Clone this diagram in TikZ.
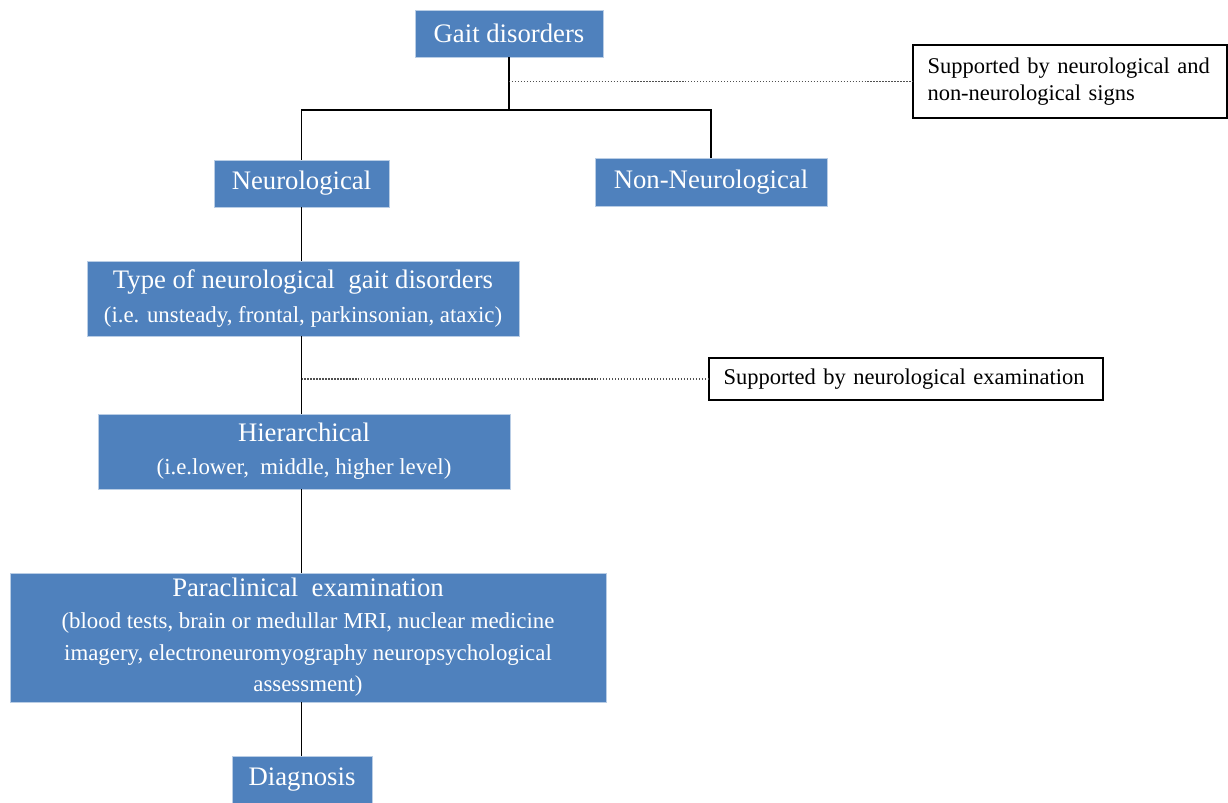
\documentclass[tikz,border=0pt]{standalone}
\usepackage{fontspec}
\setmainfont{Liberation Serif}
\definecolor{StepBlue}{RGB}{79,129,189}
\definecolor{StepEdge}{RGB}{185,205,229}
\definecolor{DotGray}{RGB}{80,80,80}
\usepackage{tikz}
\usetikzlibrary{positioning, calc}
\newcommand{\subsize}{\fontsize{13}{16}\selectfont}
\tikzset{
    base/.style={
        align=center,
        inner sep=3pt,
        text=white,
        font=\fontsize{15.2}{18}\selectfont
    },
    stepbox/.style={base, fill=StepBlue, draw=StepEdge, line width=0.5pt},
    notebox/.style={base, fill=white, draw=black, line width=0.7pt, text=black,
        align=left, inner xsep=8pt, font=\fontsize{12.8}{15}\selectfont},
    link/.style={draw=black, line width=0.8pt},
    dotlink/.style={draw=DotGray, densely dotted, line width=0.7pt}
}

\begin{document}
\begin{tikzpicture}[x=1cm, y=1cm]
        \useasboundingbox (0,0) rectangle (24.56,-16.06);
        
        % boxes of the chain
        \node[stepbox, minimum width=3.76cm, minimum height=0.94cm] (gait) at (10.18,-0.67) {Gait disorders};
        \node[stepbox, minimum width=3.50cm, minimum height=0.94cm] (neuro) at (6.03,-3.67) {Neurological};
        \node[stepbox, minimum width=4.64cm, minimum height=0.96cm] (nonneuro) at (14.22,-3.64) {Non-Neurological};
        \node[stepbox, minimum width=8.64cm, minimum height=1.50cm] (type) at (6.06,-5.97)
            {Type of neurological\ \ gait disorders\\[1pt]\subsize (i.e. unsteady, frontal, parkinsonian, ataxic)};
        \node[stepbox, minimum width=8.24cm, minimum height=1.50cm] (hier) at (6.08,-9.03)
            {Hierarchical\\[1pt]\subsize (i.e.lower,\ \ middle, higher level)};
        \node[stepbox, minimum width=11.92cm, minimum height=2.58cm] (para) at (6.16,-12.75)
            {Paraclinical\ \ examination\\[0pt]\subsize (blood tests, brain or medullar MRI, nuclear medicine\\\subsize imagery, electroneuromyography neuropsychological\\\subsize assessment)};
        \node[stepbox, minimum width=2.80cm, minimum height=0.94cm] (diag) at (6.04,-15.60) {Diagnosis};
        
        % side notes
        \node[notebox, minimum width=6.28cm, minimum height=1.46cm, text width=5.70cm] (signs) at (21.40,-1.63)
            {Supported by neurological and\\non-neurological signs};
        \node[notebox, minimum width=7.88cm, minimum height=0.84cm, text width=7.30cm] (exam) at (18.12,-7.58)
            {Supported by neurological examination};
        
        % connectors
        \coordinate (split) at (10.18,-2.20);
        \draw[link] (gait.south) -- (split);
        \draw[link] (neuro.north) |- (split) -| (nonneuro.north);
        \draw[link] (neuro.south) -- (neuro.south |- type.north);
        \draw[link] (neuro.south |- type.south) -- (neuro.south |- hier.north);
        \draw[link] (neuro.south |- hier.south) -- (neuro.south |- para.north);
        \draw[link] (neuro.south |- para.south) -- (neuro.south |- diag.north);
        
        \coordinate (tapA) at (gait.south |- signs.west);
        \coordinate (tapB) at (neuro.south |- exam.west);
        \draw[dotlink] (tapA) -- (signs.west);
        \draw[dotlink] (tapB) -- (exam.west);
        
        \end{tikzpicture}
\end{document}
